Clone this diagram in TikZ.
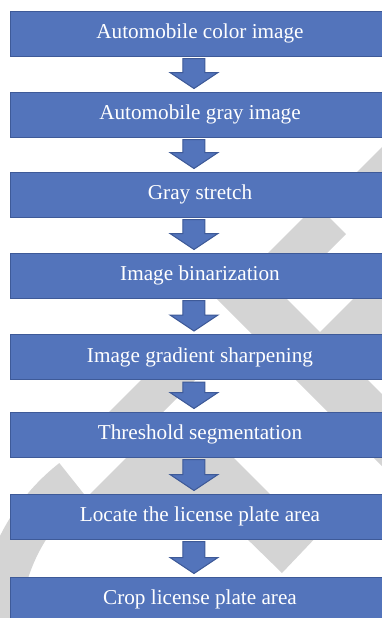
\documentclass[tikz,border=0pt]{standalone}
\usepackage{fontspec}
\setmainfont{Liberation Serif}
\usetikzlibrary{calc}
\definecolor{boxblue}{RGB}{83,116,187}
\definecolor{boxline}{RGB}{62,90,152}
\definecolor{markgray}{RGB}{212,212,212}
\begin{document}
\begin{tikzpicture}[x=0.5pt,y=-0.5pt]
    \tikzstyle{every node}=[rectangle, fill=boxblue, draw=boxline, line width=0.5pt, minimum width=189pt, minimum height=22.5pt, inner sep=0pt, font=\fontsize{10.6}{12}\selectfont, text=white]
    \tikzstyle{flow}=[fill=boxblue, draw=boxline, line width=0.5pt,
        to path={let \p1=(\tikztostart.south), \p2=(\tikztotarget.north) in
            (\x1-8.5pt,\y1-1pt) -- (\x1+2.5pt,\y1-1pt) -- (\x1+2.5pt,\y2+9.5pt) -- (\x1+9pt,\y2+9.5pt)
            -- (\x1-3pt,\y2+1.5pt) -- (\x1-15pt,\y2+9.5pt) -- (\x1-8.5pt,\y2+9.5pt) -- cycle}]

    \clip (0,0) rectangle (382,618);
    \fill[white] (0,0) rectangle (382,618);

    % watermark behind the boxes
    \draw[markgray, line width=21pt] (190,630) ++(232:191) arc (232:140:191);
    \fill[markgray] (349,180) -- (382,147) -- (382,180) -- cycle;
    \fill[markgray] (311,210) -- (322,210) -- (346,234) -- (320,260) -- (261,260) -- cycle;
    \fill[markgray] (208,290) -- (278,290) -- (330,342) -- (260,342) -- cycle;
    \fill[markgray] (362,290) -- (382,290) -- (382,342) -- (310,342) -- cycle;
    \fill[markgray] (151,370) -- (205,370) -- (155,420) -- (101,420) -- cycle;
    \fill[markgray] (286,370) -- (358,370) -- (408,420) -- (336,420) -- cycle;
    \fill[markgray] (134,450) -- (226,450) -- (272,496) -- (88,496) -- cycle;
    \fill[markgray] (366,450) -- (382,450) -- (382,466) -- cycle;
    \fill[markgray] (240,532) -- (321,532) -- (282,573) -- cycle;

    \node (b1) at (200,33.5) {Automobile color image};
    \node (b2) at (200,114.5) {Automobile gray image};
    \node (b3) at (200,194.5) {Gray stretch};
    \node (b4) at (200,275.5) {Image binarization};
    \node (b5) at (200,357) {Image gradient sharpening};
    \node (b6) at (200,434.5) {Threshold segmentation};
    \node (b7) at (200,516.5) {Locate the license plate area};
    \node (b8) at (200,599.5) {Crop license plate area};

    \draw[flow] (b1) to (b2);
    \draw[flow] (b2) to (b3);
    \draw[flow] (b3) to (b4);
    \draw[flow] (b4) to (b5);
    \draw[flow] (b5) to (b6);
    \draw[flow] (b6) to (b7);
    \draw[flow] (b7) to (b8);
\end{tikzpicture}
\end{document}
